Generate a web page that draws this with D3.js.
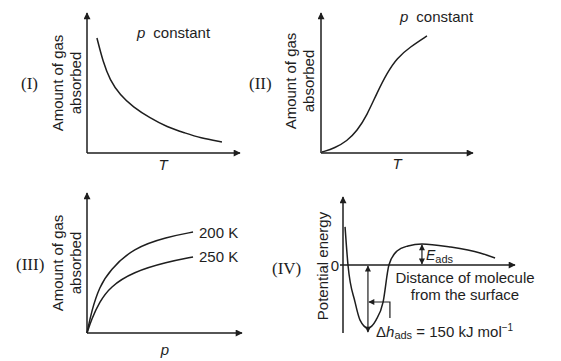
<!DOCTYPE html>
<html><head><meta charset="utf-8">
<script src="https://cdnjs.cloudflare.com/ajax/libs/d3/7.8.5/d3.min.js"></script>
<style>
html,body{margin:0;padding:0;background:#fff;}
svg{display:block;}
text{font-family:"Liberation Sans",Arial,sans-serif;fill:#1e1e1e;}
.roman{font-family:"Liberation Serif","Times New Roman",serif;}
</style></head>
<body>
<svg id="c" width="561" height="361"></svg>
<script>
// ---- data (x, y in arbitrary units; domain 0..10) ----
const panelIx = [0.65, 1.05, 1.50, 2.16, 3.01, 4.12, 5.23, 6.41, 7.39, 8.82];
const panelIy = [8.21, 6.5, 5.21, 4.14, 3.29, 2.5, 1.86, 1.43, 1.07, 0.79];
const panelIIx = [0.07, 0.92, 1.71, 2.37, 3.03, 3.68, 4.34, 5.0, 5.86, 6.97];
const panelIIy = [0.07, 0.36, 0.86, 1.57, 2.71, 4.29, 5.71, 6.79, 7.57, 8.36];
const panelIIIx = [0, 0.3, 0.8, 1.48, 2.97, 5.16, 6.84];
const panelIII200K = [0, 1.6, 3.3, 4.5, 6.07, 6.86, 7.21];
const panelIII250K = [0, 1.0, 2.2, 3.29, 4.36, 5.07, 5.43];
const seriesLabels = ["200 K", "250 K"];
const panelIVx = [0.12, 0.29, 0.70, 0.99, 1.45, 1.92, 2.33, 2.67, 3.14, 3.78, 4.59, 6.22, 7.97, 8.84];
const panelIVy = [2.24, 0, -2.18, -3.24, -3.71, -3.24, -2.18, 0, 0.82, 1.12, 1.24, 1.06, 0.71, 0.41];
const panelNames = ["(I)", "(II)", "(III)", "(IV)"];

const svg = d3.select("#c");
const ink = "#1e1e1e";

const defs = svg.append("defs");
defs.append("marker").attr("id","ax").attr("viewBox","0 0 10 10")
  .attr("refX",9).attr("refY",5).attr("markerWidth",9).attr("markerHeight",7)
  .attr("markerUnits","userSpaceOnUse").attr("orient","auto")
  .append("path").attr("d","M0,0 L10,5 L0,10 Z").attr("fill",ink);
defs.append("marker").attr("id","ah").attr("viewBox","0 0 10 10")
  .attr("refX",9).attr("refY",5).attr("markerWidth",7).attr("markerHeight",6)
  .attr("markerUnits","userSpaceOnUse").attr("orient","auto-start-reverse")
  .append("path").attr("d","M0,0 L10,5 L0,10 Z").attr("fill",ink);

function panel(cfg){
  const x = d3.scaleLinear().domain(cfg.xd).range(cfg.xr);
  const y = d3.scaleLinear().domain(cfg.yd).range(cfg.yr);
  const g = svg.append("g");
  g.append("line").attr("x1",x(0)).attr("x2",x(0))
    .attr("y1",y(cfg.yd[0])).attr("y2",y(cfg.yd[1]))
    .attr("stroke",ink).attr("stroke-width",1.5).attr("marker-end","url(#ax)");
  g.append("line").attr("x1",x(cfg.xd[0])-(cfg.xExtraLeft||0)).attr("x2",x(cfg.xd[1]))
    .attr("y1",y(0)).attr("y2",y(0))
    .attr("stroke",ink).attr("stroke-width",1.5).attr("marker-end","url(#ax)");
  return {x, y, g};
}
function curve(p, xs, ys, c){
  const line = d3.line().x((d,i)=>p.x(xs[i])).y(d=>p.y(d)).curve(c||d3.curveBasis);
  p.g.append("path").attr("d", line(ys)).attr("fill","none").attr("stroke",ink).attr("stroke-width",1.5);
}
function ylabel(lines, xs, cy){
  lines.forEach((t,i)=>{
    svg.append("text").attr("transform",`translate(${xs[i]},${cy}) rotate(-90)`)
      .attr("text-anchor","middle").attr("dominant-baseline","central")
      .attr("font-size",15).text(t);
  });
}
function pconst(x, y){
  const t = svg.append("text").attr("x",x).attr("y",y).attr("font-size",15);
  t.append("tspan").attr("font-style","italic").text("p");
  t.append("tspan").attr("dx",8).text("constant");
}
function roman(t, x, y){
  svg.append("text").attr("class","roman").attr("x",x).attr("y",y).attr("font-size",17)
    .attr("dominant-baseline","central").text(t);
}
function italic(t, x, y){
  svg.append("text").attr("x",x).attr("y",y).attr("font-size",15).attr("font-style","italic")
    .attr("text-anchor","middle").text(t);
}

// Panel I
const p1 = panel({xd:[0,10], yd:[0,10], xr:[87,240], yr:[153,13]});
curve(p1, panelIx, panelIy);
ylabel(["Amount of gas","absorbed"],[57,75],83);
pconst(137,38);
italic("T",163,170);
roman(panelNames[0],21,83);

// Panel II
const p2 = panel({xd:[0,10], yd:[0,10], xr:[321,473], yr:[153,13]});
curve(p2, panelIIx, panelIIy);
ylabel(["Amount of gas","absorbed"],[290,308],81);
pconst(400,22);
italic("T",397,169);
roman(panelNames[1],249,83);

// Panel III
const p3 = panel({xd:[0,10], yd:[0,10], xr:[87,242], yr:[333,193]});
curve(p3, panelIIIx, panelIII200K);
curve(p3, panelIIIx, panelIII250K);
ylabel(["Amount of gas","absorbed"],[57,75],263);
[panelIII200K, panelIII250K].forEach((s,i)=>{
  svg.append("text").attr("x",p3.x(panelIIIx[panelIIIx.length-1])+6).attr("y",p3.y(s[s.length-1]))
    .attr("dominant-baseline","central").attr("font-size",15).text(seriesLabels[i]);
});
italic("p",165,355);
roman(panelNames[2],16,264);

// Panel IV
const p4 = panel({xd:[0,10], yd:[-4,4], xr:[343,515], yr:[333,197], xExtraLeft:3});
curve(p4, panelIVx, panelIVy, d3.curveMonotoneX);
svg.append("text").attr("transform","translate(322,266) rotate(-90)")
  .attr("text-anchor","middle").attr("dominant-baseline","central").attr("font-size",15).text("Potential energy");
svg.append("text").attr("x",p4.x(0)-4).attr("y",p4.y(0)).attr("text-anchor","end")
  .attr("dominant-baseline","central").attr("font-size",15).text("0");
svg.append("text").attr("x",465).attr("y",283).attr("text-anchor","middle").attr("font-size",15).text("Distance of molecule");
svg.append("text").attr("x",465).attr("y",300).attr("text-anchor","middle").attr("font-size",15).text("from the surface");
roman(panelNames[3],272,268);

// Eads annotation at curve peak
const iPeak = d3.maxIndex(panelIVy.map((v,i)=>panelIVx[i] > 2.5 ? v : -Infinity));
const peakX = p4.x(panelIVx[iPeak]);
p4.g.append("line").attr("x1",peakX).attr("x2",peakX)
  .attr("y1",p4.y(panelIVy[iPeak])+1).attr("y2",p4.y(0)-1)
  .attr("stroke",ink).attr("stroke-width",1.2)
  .attr("marker-start","url(#ah)").attr("marker-end","url(#ah)");
const te = svg.append("text").attr("x",peakX+4).attr("y",p4.y(0)-5).attr("font-size",14);
te.append("tspan").attr("font-style","italic").text("E");
te.append("tspan").attr("font-size",11).attr("dy",3).text("ads");

// Δh annotation at curve minimum
const iMin = d3.minIndex(panelIVy);
const minX = p4.x(panelIVx[iMin]);
p4.g.append("line").attr("x1",minX).attr("x2",minX)
  .attr("y1",p4.y(0)+1).attr("y2",p4.y(panelIVy[iMin])+4)
  .attr("stroke",ink).attr("stroke-width",1.2)
  .attr("marker-start","url(#ah)").attr("marker-end","url(#ah)");
const bx = p4.x(panelIVx[7]) + 1, by = 302;
p4.g.append("path").attr("d",`M${bx},${by+16} L${bx},${by} L${minX+1},${by}`)
  .attr("fill","none").attr("stroke",ink).attr("stroke-width",1.2).attr("marker-end","url(#ah)");
const th = svg.append("text").attr("x",376).attr("y",337).attr("font-size",15);
th.append("tspan").text("Δ");
th.append("tspan").attr("font-style","italic").text("h");
th.append("tspan").attr("font-size",11).attr("dy",2).text("ads");
th.append("tspan").attr("dy",-2).text(" = 150 kJ mol");
th.append("tspan").attr("font-size",10).attr("dy",-6).text("−1");
</script>
</body></html>
